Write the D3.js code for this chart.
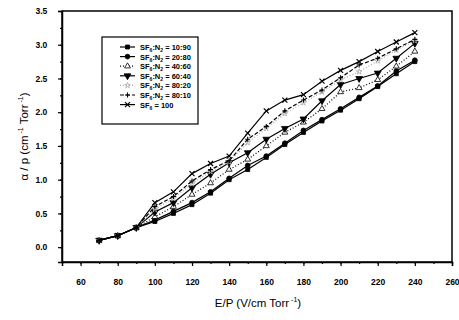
<!DOCTYPE html>
<html>
<head>
<meta charset="utf-8">
<script src="https://cdn.jsdelivr.net/npm/d3@7"></script>
<style>
  body { margin: 0; background: #fff; }
  text { font-family: Arial, "Liberation Sans", sans-serif; }
</style>
</head>
<body>
<div id="chart"></div>
<script>
// E/P values
const ep = [70, 80, 90, 100, 110, 120, 130, 140, 150, 160, 170, 180, 190, 200, 210, 220, 230, 240];
const low = [0.10, 0.17, 0.29];

// alpha/p for each mixture (from 100 upward, low part shared)
const s1090 = low.concat([0.38, 0.50, 0.63, 0.80, 1.00, 1.15, 1.33, 1.52, 1.70, 1.87, 2.03, 2.20, 2.38, 2.57, 2.75]);
const s2080 = low.concat([0.40, 0.53, 0.66, 0.82, 1.02, 1.21, 1.35, 1.54, 1.73, 1.89, 2.05, 2.22, 2.39, 2.61, 2.77]);
const s4060 = low.concat([0.45, 0.60, 0.78, 0.95, 1.15, 1.30, 1.50, 1.70, 1.85, 2.05, 2.30, 2.36, 2.48, 2.68, 2.90]);
const s6040 = low.concat([0.52, 0.66, 0.88, 1.08, 1.25, 1.40, 1.60, 1.76, 1.90, 2.17, 2.41, 2.50, 2.58, 2.80, 3.02]);
const s8020 = low.concat([0.56, 0.72, 0.94, 1.12, 1.26, 1.55, 1.76, 1.98, 2.14, 2.30, 2.48, 2.60, 2.76, 2.92, 3.06]);
const s8010 = low.concat([0.60, 0.75, 0.98, 1.15, 1.28, 1.60, 1.79, 2.02, 2.18, 2.33, 2.51, 2.70, 2.80, 2.94, 3.08]);
const s100  = low.concat([0.66, 0.82, 1.09, 1.24, 1.35, 1.69, 2.02, 2.18, 2.26, 2.46, 2.62, 2.75, 2.90, 3.04, 3.18]);

const names = ["10:90", "20:80", "40:60", "60:40", "80:20", "80:10", "100"];
const values = [s1090, s2080, s4060, s6040, s8020, s8010, s100];

const xTicks = [60, 80, 100, 120, 140, 160, 180, 200, 220, 240, 260];
const yTicks = [0.0, 0.5, 1.0, 1.5, 2.0, 2.5, 3.0, 3.5];

const styles = [
  { sym: d3.symbolSquare, size: 16, fill: "#000", dash: null, color: "#000" },
  { sym: d3.symbolCircle, size: 18, fill: "#000", dash: null, color: "#000" },
  { sym: d3.symbolTriangle, size: 15, fill: "#fff", dash: "1,2", color: "#000" },
  { sym: "down", size: 20, fill: "#000", dash: null, color: "#000" },
  { sym: d3.symbolStar, size: 10, fill: "none", dash: "1,2", color: "#aaa" },
  { sym: "plus", size: 0, fill: "none", dash: "4,2", color: "#000" },
  { sym: "cross", size: 0, fill: "none", dash: null, color: "#000" }
];

const W = 459, H = 320;
const m = { left: 62, right: 7, top: 11, bottom: 58 };

const svg = d3.select("#chart").append("svg")
  .attr("width", W).attr("height", H);

const x = d3.scaleLinear().domain([50, 260]).range([m.left, W - m.right]);
const y = d3.scaleLinear().domain([-0.22, 3.5]).range([H - m.bottom, m.top]);

// frame
svg.append("rect")
  .attr("x", m.left).attr("y", m.top)
  .attr("width", W - m.right - m.left).attr("height", H - m.bottom - m.top)
  .attr("fill", "none").attr("stroke", "#000").attr("stroke-width", 1.5);

// x axis
const xAxis = svg.append("g").attr("transform", `translate(0,${H - m.bottom})`);
xAxis.call(d3.axisBottom(x).tickValues(xTicks).tickSize(4).tickFormat(d3.format("d")));
svg.append("g").attr("transform", `translate(0,${H - m.bottom})`)
  .call(d3.axisBottom(x).tickValues(d3.range(50, 261, 10)).tickSize(2).tickFormat(""))
  .select(".domain").remove();

// y axis
const yAxis = svg.append("g").attr("transform", `translate(${m.left},0)`);
yAxis.call(d3.axisLeft(y).tickValues(yTicks).tickSize(4).tickFormat(d3.format(".1f")));
svg.append("g").attr("transform", `translate(${m.left},0)`)
  .call(d3.axisLeft(y).tickValues(d3.range(-0.25, 3.51, 0.25).filter(v => v >= -0.22)).tickSize(2).tickFormat(""))
  .select(".domain").remove();

svg.selectAll(".domain").attr("stroke-width", 1.5);
svg.selectAll(".tick line").attr("stroke-width", 1.2);
xAxis.selectAll("text").attr("font-size", 8.5).attr("font-weight", "bold").attr("dy", "1.9em");
yAxis.selectAll("text").attr("font-size", 8.5).attr("font-weight", "bold").attr("dx", "-0.9em");

// axis titles
const xt = svg.append("text")
  .attr("x", 258).attr("y", 307)
  .attr("text-anchor", "middle").attr("font-size", 11.5);
xt.append("tspan").text("E/P (V/cm Torr");
xt.append("tspan").attr("dy", -5).attr("font-size", 7).text(" -1");
xt.append("tspan").attr("dy", 5).text(")");

const yt = svg.append("text")
  .attr("transform", `translate(28,${(m.top + H - m.bottom) / 2}) rotate(-90)`)
  .attr("text-anchor", "middle").attr("font-size", 11.5);
yt.append("tspan").text("α / p (cm");
yt.append("tspan").attr("dy", -5).attr("font-size", 7).text(" -1");
yt.append("tspan").attr("dy", 5).text(" Torr");
yt.append("tspan").attr("dy", -5).attr("font-size", 7).text(" -1");
yt.append("tspan").attr("dy", 5).text(")");

function drawMarker(g, st, cx, cy) {
  if (st.sym === "plus") {
    g.append("path").attr("d", `M${cx - 2.5},${cy}H${cx + 2.5}M${cx},${cy - 2.5}V${cy + 2.5}`)
      .attr("stroke", st.color).attr("stroke-width", 1.1);
  } else if (st.sym === "cross") {
    g.append("path").attr("d", `M${cx - 2.5},${cy - 2.5}L${cx + 2.5},${cy + 2.5}M${cx - 2.5},${cy + 2.5}L${cx + 2.5},${cy - 2.5}`)
      .attr("stroke", st.color).attr("stroke-width", 1.2);
  } else if (st.sym === "down") {
    g.append("path").attr("d", d3.symbol(d3.symbolTriangle, st.size)())
      .attr("transform", `translate(${cx},${cy}) rotate(180)`)
      .attr("fill", st.fill).attr("stroke", st.color).attr("stroke-width", 0.8);
  } else {
    g.append("path").attr("d", d3.symbol(st.sym, st.size)())
      .attr("transform", `translate(${cx},${cy})`)
      .attr("fill", st.fill).attr("stroke", st.color).attr("stroke-width", 0.8);
  }
}

const line = d3.line().x(d => x(d[0])).y(d => y(d[1]));

values.forEach((vals, i) => {
  const st = styles[i];
  const pts = ep.map((e, j) => [e, vals[j]]);
  const g = svg.append("g");
  g.append("path").datum(pts)
    .attr("d", line).attr("fill", "none")
    .attr("stroke", st.color).attr("stroke-width", 1.2)
    .attr("stroke-dasharray", st.dash);
  pts.forEach(p => drawMarker(g, st, x(p[0]), y(p[1])));
});

// legend
const lg = svg.append("g");
lg.append("rect").attr("x", 102).attr("y", 37).attr("width", 96).attr("height", 87)
  .attr("fill", "#fff").attr("stroke", "#000").attr("stroke-width", 1.2);
names.forEach((n, i) => {
  const st = styles[i];
  const ly = 47 + i * 9.6;
  lg.append("line").attr("x1", 120).attr("x2", 135).attr("y1", ly).attr("y2", ly)
    .attr("stroke", st.color).attr("stroke-width", 1.2).attr("stroke-dasharray", st.dash);
  drawMarker(lg, st, 127.5, ly);
  const t = lg.append("text").attr("x", 140).attr("y", ly + 3).attr("font-size", 7.5).attr("font-weight", "bold");
  t.append("tspan").text("SF");
  t.append("tspan").attr("dy", 2).attr("font-size", 5).text("6");
  if (n === "100") {
    t.append("tspan").attr("dy", -2).text(" = 100");
  } else {
    t.append("tspan").attr("dy", -2).text(":N");
    t.append("tspan").attr("dy", 2).attr("font-size", 5).text("2");
    t.append("tspan").attr("dy", -2).text(" = " + n);
  }
});
</script>
</body>
</html>
